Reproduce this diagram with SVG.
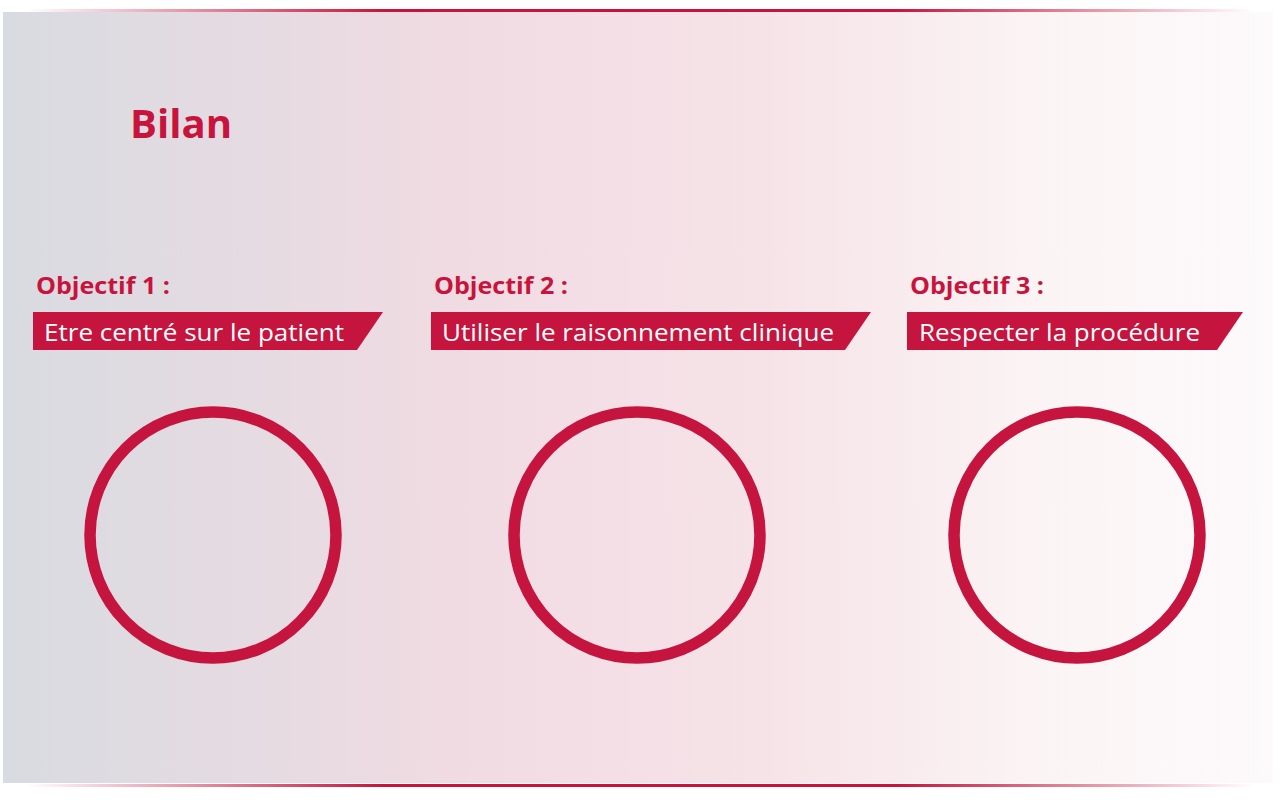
<svg xmlns="http://www.w3.org/2000/svg" width="1280" height="800" viewBox="0 0 1280 800">
  <defs>
    <linearGradient id="bg" x1="0" y1="0" x2="1" y2="0">
      <stop offset="0" stop-color="#d8dbe1"/>
      <stop offset="0.35" stop-color="#f0dbe2"/>
      <stop offset="0.6" stop-color="#f6e3e8"/>
      <stop offset="0.82" stop-color="#fbf4f5"/>
      <stop offset="1" stop-color="#fdfafb"/>
    </linearGradient>
    <linearGradient id="rule" x1="0" y1="0" x2="1" y2="0">
      <stop offset="0.02" stop-color="#c8143c" stop-opacity="0"/>
      <stop offset="0.3" stop-color="#c8143c" stop-opacity="1"/>
      <stop offset="0.7" stop-color="#c8143c" stop-opacity="1"/>
      <stop offset="0.98" stop-color="#c8143c" stop-opacity="0"/>
    </linearGradient>
    <style>
      .title { font-family: "Open Sans", "Noto Sans", sans-serif; font-weight: 700; fill: #c8143c; }
      .obj { font-family: "Open Sans", "Noto Sans", sans-serif; font-weight: 700; font-size: 24px; fill: #c8143c; }
      .band { fill: #c5143e; }
      .bandtext { font-family: "Open Sans", "Noto Sans", sans-serif; font-size: 24px; fill: #ffffff; }
      .ring { fill: none; stroke: #c5143e; stroke-width: 11.5; }
    </style>
  </defs>

  <!-- panel with fading top and bottom rules -->
  <rect x="3" y="12" width="1270" height="771" fill="url(#bg)"/>
  <rect x="0" y="9" width="1280" height="3" fill="url(#rule)"/>
  <rect x="0" y="784" width="1280" height="3" fill="url(#rule)"/>

  <text class="title" x="130" y="138" font-size="40" textLength="102" lengthAdjust="spacingAndGlyphs">Bilan</text>

  <g id="objectif1">
    <text class="obj" x="36" y="294" textLength="134" lengthAdjust="spacingAndGlyphs">Objectif 1 :</text>
    <polygon class="band" points="33,312 383,312 357,350 33,350"/>
    <text class="bandtext" x="44" y="341" textLength="300" lengthAdjust="spacingAndGlyphs">Etre centré sur le patient</text>
    <circle class="ring" cx="213" cy="535" r="123"/>
  </g>

  <g id="objectif2">
    <text class="obj" x="434" y="294" textLength="134" lengthAdjust="spacingAndGlyphs">Objectif 2 :</text>
    <polygon class="band" points="431,312 871,312 845,350 431,350"/>
    <text class="bandtext" x="442" y="341" textLength="392" lengthAdjust="spacingAndGlyphs">Utiliser le raisonnement clinique</text>
    <circle class="ring" cx="637" cy="535" r="123"/>
  </g>

  <g id="objectif3">
    <text class="obj" x="910" y="294" textLength="134" lengthAdjust="spacingAndGlyphs">Objectif 3 :</text>
    <polygon class="band" points="907,312 1243,312 1217,350 907,350"/>
    <text class="bandtext" x="919" y="341" textLength="281" lengthAdjust="spacingAndGlyphs">Respecter la procédure</text>
    <circle class="ring" cx="1077" cy="535" r="123"/>
  </g>

  <g id="connectors"/>
</svg>
